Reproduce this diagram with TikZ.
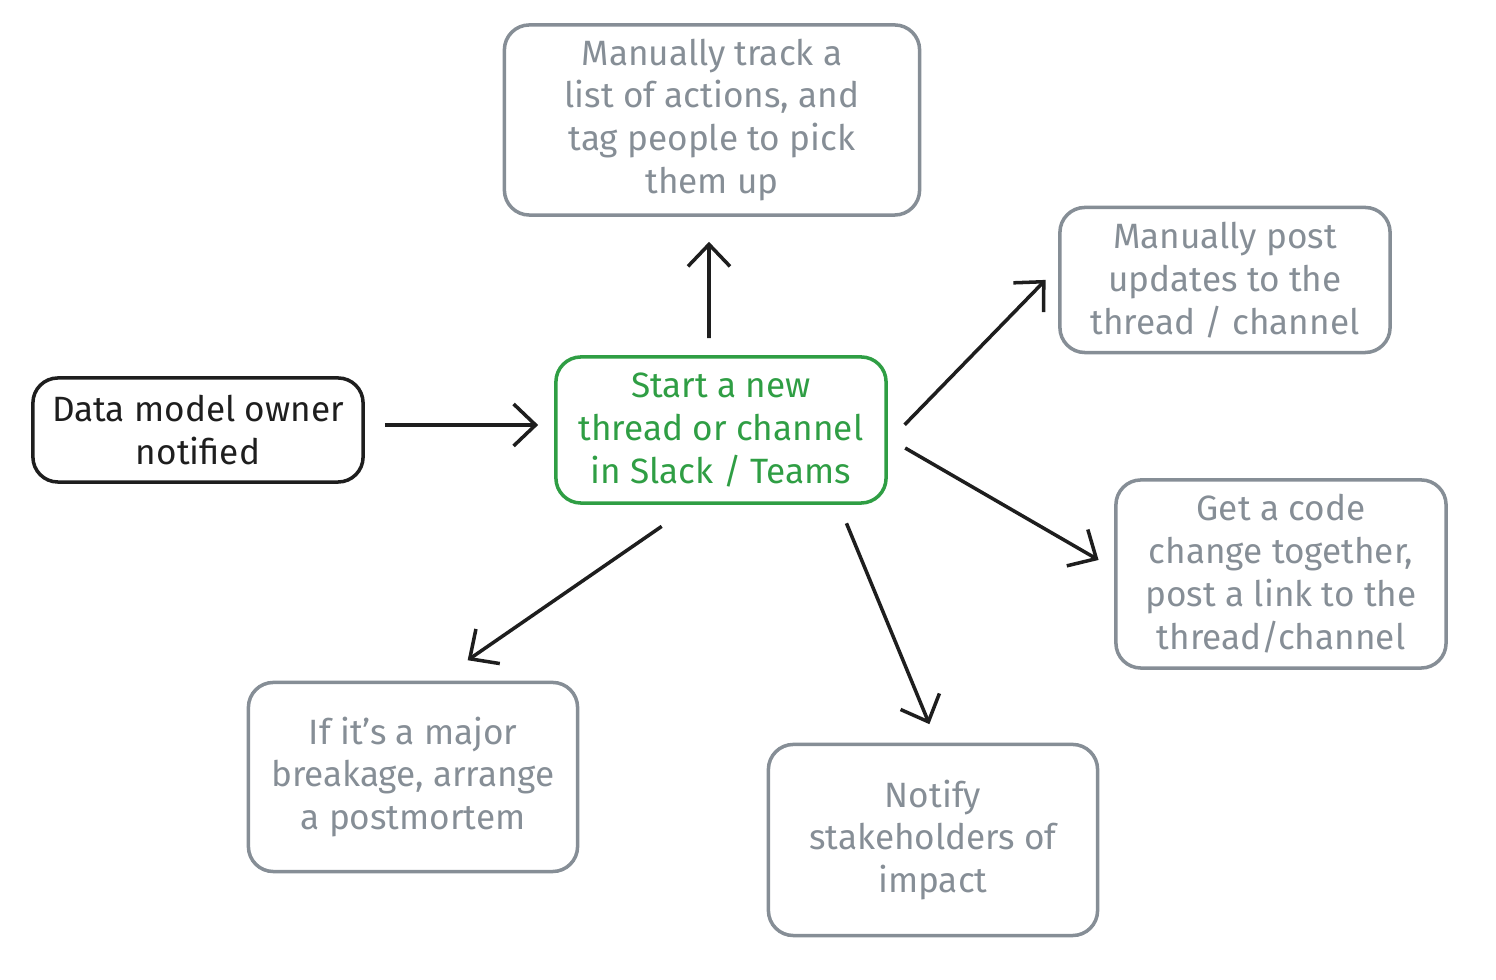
\documentclass[tikz,border=0pt]{standalone}
\usepackage{fontspec}
\setmainfont{Fira Sans}
\usetikzlibrary{arrows.meta}

\definecolor{boxgray}{HTML}{868E96}
\definecolor{boxgreen}{HTML}{2F9E44}
\definecolor{boxblack}{HTML}{1E1E1E}

\begin{document}
\begin{tikzpicture}[
		x=0.01cm, y=-0.01cm,
		box/.style={draw, line width=1pt, rounded corners=0.25cm, align=center,
			font=\fontsize{10pt}{12.2pt}\selectfont, inner sep=0pt},
		graybox/.style={box, draw=boxgray, text=boxgray},
		link/.style={draw=boxblack, line width=1pt,
			-{Straight Barb[length=0.22cm, width=0.42cm, line width=1pt]}},
	]
		\useasboundingbox (0,0) rectangle (1496,980);

		\node [box, draw=boxblack, text=boxblack, minimum width=3.3cm, minimum height=1.04cm] (owner) at (198,430) {Data model owner\\notified};
		\node [box, draw=boxgreen, text=boxgreen, minimum width=3.3cm, minimum height=1.46cm] (ctr) at (721,430) {Start a new\\thread or channel\\in Slack / Teams};
		\node [graybox, minimum width=4.15cm, minimum height=1.9cm] (track) at (712,120) {Manually track a\\list of actions, and\\tag people to pick\\them up};
		\node [graybox, minimum width=3.3cm, minimum height=1.45cm] (upd) at (1225,280) {Manually post\\updates to the\\thread / channel};
		\node [graybox, minimum width=3.3cm, minimum height=1.88cm] (code) at (1281,574) {Get a code\\change together,\\post a link to the\\thread/channel};
		\node [graybox, minimum width=3.29cm, minimum height=1.91cm] (imp) at (933,840) {Notify\\stakeholders of\\impact};
		\node [graybox, minimum width=3.29cm, minimum height=1.89cm] (pm) at (413,777) {If it's a major\\breakage, arrange\\a postmortem};

		\draw [link, shorten <=0.2cm, shorten >=0.16cm] ([yshift=0.05cm]owner.east) -- ([yshift=0.05cm]ctr.west);
		\draw [link, shorten <=0.17cm, shorten >=0.25cm] ([xshift=-0.12cm]ctr.north) -- ([xshift=-0.03cm]track.south);
		\draw [link, shorten <=0.24cm, shorten >=0.18cm] ([yshift=-0.12cm]ctr.east) -- ([yshift=0.13cm]upd.west);
		\draw [link, shorten <=0.2cm, shorten >=0.18cm] ([yshift=-0.08cm]ctr.east) -- ([yshift=0.05cm]code.west);
		\draw [link, shorten <=0.2cm, shorten >=0.2cm] ([xshift=-0.49cm]ctr.south east) -- ([xshift=0.04cm]imp.north);
		\draw [link, shorten <=0.38cm, shorten >=0.36cm] ([xshift=-0.28cm]ctr.south) -- ([xshift=0.25cm]pm.north);
	\end{tikzpicture}
\end{document}
